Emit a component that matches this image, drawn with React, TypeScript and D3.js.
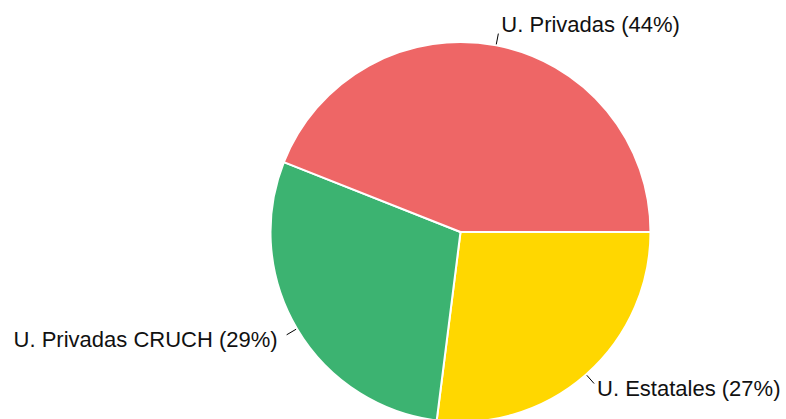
import React from "react";
import * as d3 from "d3";

type Slice = {
  label: string;
  value: number;
};

const labels = ["U. Estatales", "U. Privadas CRUCH", "U. Privadas"];
const values = [27, 29, 44];
const colors = ["#ffd700", "#3cb371", "#ee6666"];

const data: Slice[] = labels.map((label, i) => ({ label, value: values[i] }));

const width = 786;
const height = 419;
const cx = 460.5;
const cy = 232;
const radius = 190;

const App: React.FC = () => {
  const svgRef = React.useRef<SVGSVGElement>(null);

  React.useEffect(() => {
    const svgEl = d3.select(svgRef.current);
    svgEl.selectAll("*").remove();

    const g = svgEl.append("g").attr("transform", `translate(${cx},${cy})`);

    const pie = d3
      .pie<Slice>()
      .value((d) => d.value)
      .sort(null)
      .startAngle(Math.PI / 2)
      .endAngle(Math.PI / 2 + 2 * Math.PI);

    const arc = d3.arc<d3.PieArcDatum<Slice>>().innerRadius(0).outerRadius(radius);

    const arcs = pie(data);

    // slices
    g.selectAll("path.slice")
      .data(arcs)
      .join("path")
      .attr("class", "slice")
      .attr("d", arc)
      .attr("fill", (d, i) => colors[i])
      .attr("stroke", "#fff")
      .attr("stroke-width", 2)
      .attr("stroke-linejoin", "round");

    // leader lines + labels
    const total = d3.sum(values);
    arcs.forEach((d) => {
      const mid = (d.startAngle + d.endAngle) / 2;
      const sx = Math.sin(mid);
      const sy = -Math.cos(mid);
      const r0 = radius + 1;
      const r1 = radius + 12;
      const x0 = r0 * sx;
      const y0 = r0 * sy;
      const x1 = r1 * sx;
      const y1 = r1 * sy;

      g.append("line")
        .attr("x1", x0)
        .attr("y1", y0)
        .attr("x2", x1)
        .attr("y2", y1)
        .attr("stroke", "#000")
        .attr("stroke-width", 1);

      const right = sx >= 0;
      const upper = sy < 0;
      const pct = Math.round((d.data.value / total) * 100);

      g.append("text")
        .attr("x", right ? x1 + 3 : x1 - 9)
        .attr("y", upper ? y1 - 1.5 : y1 + 12.5)
        .attr("text-anchor", right ? "start" : "end")
        .attr("font-family", "'Liberation Sans', Arial, sans-serif")
        .attr("font-size", "22px")
        .attr("fill", "#111")
        .text(`${d.data.label} (${pct}%)`);
    });
  }, []);

  return (
    <svg
      ref={svgRef}
      width={width}
      height={height}
      style={{ position: "absolute", left: 0, top: 0, background: "#fff" }}
    />
  );
};

export default App;
